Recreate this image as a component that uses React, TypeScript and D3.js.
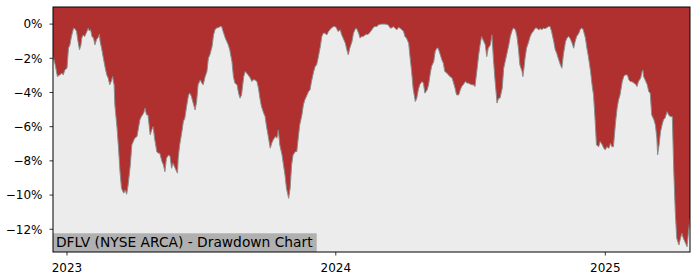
import React from 'react';
import * as d3 from 'd3';

const dates: string[] = [
  '2022-12-13','2022-12-16','2022-12-19','2022-12-22','2022-12-25','2022-12-27','2022-12-29',
  '2023-01-01','2023-01-03','2023-01-05','2023-01-07','2023-01-10','2023-01-12','2023-01-14','2023-01-16','2023-01-18','2023-01-20','2023-01-21','2023-01-23','2023-01-25','2023-01-28','2023-01-30','2023-01-31',
  '2023-02-02','2023-02-04','2023-02-06','2023-02-08','2023-02-10','2023-02-13','2023-02-14','2023-02-15','2023-02-17','2023-02-19','2023-02-22','2023-02-24','2023-02-26','2023-02-28',
  '2023-03-02','2023-03-04','2023-03-05','2023-03-06','2023-03-07','2023-03-10','2023-03-12','2023-03-14','2023-03-16','2023-03-19','2023-03-21','2023-03-23','2023-03-25','2023-03-28','2023-03-30',
  '2023-04-01','2023-04-03','2023-04-06','2023-04-08','2023-04-10','2023-04-12','2023-04-15','2023-04-17','2023-04-19','2023-04-21','2023-04-24','2023-04-26','2023-04-28','2023-04-30',
  '2023-05-03','2023-05-05','2023-05-07','2023-05-10','2023-05-12','2023-05-14','2023-05-16','2023-05-19','2023-05-21','2023-05-23','2023-05-25','2023-05-28','2023-05-30','2023-05-31',
  '2023-06-01','2023-06-03','2023-06-06','2023-06-08','2023-06-10','2023-06-12','2023-06-15','2023-06-17','2023-06-19','2023-06-22','2023-06-24','2023-06-26','2023-06-28',
  '2023-07-01','2023-07-03','2023-07-05','2023-07-07','2023-07-10','2023-07-12','2023-07-14','2023-07-17','2023-07-19','2023-07-21','2023-07-23','2023-07-26','2023-07-28','2023-07-30',
  '2023-08-01','2023-08-04','2023-08-06','2023-08-08','2023-08-10','2023-08-13','2023-08-15','2023-08-17','2023-08-20','2023-08-22','2023-08-24','2023-08-26','2023-08-29','2023-08-31',
  '2023-09-02','2023-09-04','2023-09-07','2023-09-09','2023-09-11','2023-09-13','2023-09-16','2023-09-18','2023-09-20','2023-09-22','2023-09-25','2023-09-27','2023-09-29',
  '2023-10-01','2023-10-04','2023-10-06','2023-10-08','2023-10-11','2023-10-13','2023-10-15','2023-10-17','2023-10-20','2023-10-22','2023-10-24','2023-10-26','2023-10-29','2023-10-31',
  '2023-11-02','2023-11-04','2023-11-07','2023-11-09','2023-11-11','2023-11-13','2023-11-16','2023-11-18','2023-11-20','2023-11-23','2023-11-25','2023-11-27','2023-11-29',
  '2023-12-02','2023-12-04','2023-12-06','2023-12-08','2023-12-11','2023-12-13','2023-12-15','2023-12-17','2023-12-20','2023-12-22','2023-12-24','2023-12-26','2023-12-29','2023-12-31',
  '2024-01-02','2024-01-04','2024-01-07','2024-01-09','2024-01-11','2024-01-14','2024-01-16','2024-01-18','2024-01-20','2024-01-23','2024-01-25','2024-01-27','2024-01-29',
  '2024-02-01','2024-02-03','2024-02-05','2024-02-07','2024-02-10','2024-02-12','2024-02-14','2024-02-16','2024-02-19','2024-02-21','2024-02-23','2024-02-26','2024-02-28',
  '2024-03-03','2024-03-08','2024-03-12','2024-03-15','2024-03-17','2024-03-19','2024-03-21','2024-03-24','2024-03-26','2024-03-28','2024-03-31',
  '2024-04-02','2024-04-04','2024-04-06','2024-04-09','2024-04-11','2024-04-13','2024-04-15','2024-04-18','2024-04-20','2024-04-22','2024-04-24','2024-04-27','2024-04-29',
  '2024-05-01','2024-05-04','2024-05-06','2024-05-08','2024-05-10','2024-05-13','2024-05-15','2024-05-17','2024-05-19','2024-05-22','2024-05-24','2024-05-26','2024-05-28','2024-05-31',
  '2024-06-02','2024-06-04','2024-06-07','2024-06-09','2024-06-11','2024-06-13','2024-06-16','2024-06-18','2024-06-20','2024-06-22','2024-06-25','2024-06-27','2024-06-29',
  '2024-07-01','2024-07-04','2024-07-06','2024-07-08','2024-07-11','2024-07-13','2024-07-15','2024-07-17','2024-07-20','2024-07-22','2024-07-24','2024-07-26','2024-07-29','2024-07-31',
  '2024-08-02','2024-08-04','2024-08-07','2024-08-09','2024-08-11','2024-08-14','2024-08-16','2024-08-18','2024-08-20','2024-08-23','2024-08-25','2024-08-27','2024-08-29',
  '2024-09-01','2024-09-03','2024-09-05','2024-09-07','2024-09-10','2024-09-11','2024-09-12','2024-09-14','2024-09-16','2024-09-19','2024-09-21','2024-09-23','2024-09-25','2024-09-28','2024-09-30',
  '2024-10-02','2024-10-05','2024-10-07','2024-10-09','2024-10-11','2024-10-14','2024-10-16','2024-10-18','2024-10-20','2024-10-23','2024-10-25','2024-10-27','2024-10-29',
  '2024-11-01','2024-11-03','2024-11-05','2024-11-08','2024-11-10','2024-11-12','2024-11-14','2024-11-17','2024-11-19','2024-11-21','2024-11-23','2024-11-26','2024-11-28','2024-11-30',
  '2024-12-02','2024-12-05','2024-12-07','2024-12-09','2024-12-12','2024-12-14','2024-12-16','2024-12-18','2024-12-20','2024-12-23','2024-12-25','2024-12-28','2024-12-30',
  '2025-01-01','2025-01-03','2025-01-06','2025-01-08','2025-01-10','2025-01-12','2025-01-15','2025-01-17','2025-01-19','2025-01-21','2025-01-24','2025-01-26','2025-01-28','2025-01-31',
  '2025-02-02','2025-02-04','2025-02-06','2025-02-09','2025-02-11','2025-02-13','2025-02-15','2025-02-18','2025-02-20','2025-02-21','2025-02-22','2025-02-24','2025-02-27',
  '2025-03-01','2025-03-03','2025-03-05','2025-03-08','2025-03-10','2025-03-12','2025-03-13','2025-03-15','2025-03-17','2025-03-19','2025-03-21','2025-03-23','2025-03-26','2025-03-28','2025-03-30',
  '2025-04-02','2025-04-04','2025-04-06','2025-04-08','2025-04-11','2025-04-13','2025-04-15','2025-04-17','2025-04-20','2025-04-22','2025-04-24','2025-04-26',
];

const drawdown: number[] = [
  -1.90,-2.38,-3.07,-2.97,-2.87,-2.97,-2.68,
  -2.58,-1.41,-1.21,-0.73,-0.23,-0.28,-0.43,-1.02,-1.50,-1.21,-0.82,-0.63,-0.73,-0.43,-0.23,-0.39,
  -0.33,-0.73,-0.82,-1.21,-0.92,-0.73,-0.59,-1.02,-1.41,-1.90,-2.58,-2.97,-3.16,-3.55,
  -3.36,-3.07,-3.36,-3.55,-4.72,-6.09,-7.26,-8.63,-9.60,-9.89,-9.70,-9.95,-9.41,-8.24,-7.07,
  -6.87,-6.67,-6.58,-6.09,-5.60,-5.41,-5.21,-4.92,-5.31,-5.31,-6.48,-6.19,-6.00,-6.70,
  -7.46,-7.55,-7.55,-8.04,-8.24,-8.63,-7.85,-7.65,-7.75,-8.43,-8.14,-8.43,-8.63,-8.72,
  -7.85,-7.07,-6.29,-5.70,-5.50,-4.92,-4.14,-4.04,-4.24,-4.72,-5.02,-4.53,-3.55,
  -3.26,-3.45,-3.55,-3.16,-2.77,-1.99,-1.80,-1.31,-0.63,-0.33,-0.23,-0.20,-0.14,-0.14,
  -0.43,-0.82,-1.02,-1.21,-1.50,-2.19,-3.07,-3.45,-3.55,-4.04,-4.33,-4.14,-3.07,-2.77,
  -2.87,-2.97,-3.16,-3.36,-3.26,-3.26,-3.36,-3.75,-4.33,-4.80,-5.20,-5.40,-6.00,
  -6.48,-7.26,-6.97,-6.77,-6.58,-6.67,-6.19,-7.07,-7.65,-8.24,-8.82,-9.60,-10.19,-9.60,
  -8.24,-7.65,-7.46,-7.46,-6.67,-5.90,-5.31,-4.72,-4.43,-4.14,-3.94,-3.85,-3.36,
  -2.77,-2.48,-2.38,-1.99,-1.31,-0.73,-0.53,-0.53,-0.63,-0.43,-0.33,-0.23,-0.14,-0.14,
  -0.23,-0.43,-0.33,-0.63,-0.82,-1.12,-1.50,-1.80,-1.41,-1.02,-0.53,-0.33,-0.23,
  -0.53,-0.82,-0.73,-0.73,-0.63,-0.60,-0.60,-0.50,-0.33,-0.20,-0.14,-0.14,-0.04,
  0,0,-0.04,-0.23,-0.23,-0.14,-0.23,-0.33,-0.20,-0.23,-0.33,
  -0.43,-0.73,-0.82,-1.12,-1.99,-2.77,-3.75,-4.53,-4.33,-3.85,-3.55,-3.36,-3.45,
  -4.04,-3.85,-3.55,-2.97,-2.48,-2.19,-1.60,-1.41,-1.41,-1.80,-2.09,-2.28,-2.77,-2.87,
  -2.97,-3.07,-3.16,-3.45,-3.75,-4.14,-4.14,-3.85,-3.65,-3.55,-3.36,-3.45,-3.45,
  -3.50,-3.55,-3.55,-3.65,-2.58,-1.80,-1.21,-0.73,-1.02,-1.21,-1.90,-1.41,-1.21,-0.63,
  -1.99,-3.16,-4.62,-4.33,-4.33,-3.75,-2.58,-2.19,-1.80,-1.21,-0.73,-0.43,-0.23,
  -0.33,-0.73,-1.41,-2.38,-2.77,-3.07,-2.77,-1.99,-1.41,-1.02,-0.73,-0.53,-0.43,-0.23,-0.23,
  -0.33,-0.27,-0.33,-0.23,-0.27,-0.20,-0.14,-0.14,-0.43,-1.02,-1.50,-1.70,-1.99,
  -2.38,-2.58,-1.80,-1.02,-0.82,-0.73,-0.82,-1.12,-1.41,-1.02,-0.73,-0.53,-0.30,-0.23,
  -0.33,-0.82,-1.41,-1.90,-2.77,-3.55,-4.14,-5.50,-7.07,-7.17,-6.87,-7.07,-7.26,
  -7.36,-7.17,-7.26,-6.97,-7.17,-7.17,-5.70,-4.92,-4.43,-4.14,-3.36,-3.07,-2.97,-2.97,
  -3.26,-3.36,-3.36,-3.45,-3.51,-3.65,-3.36,-3.16,-2.77,-2.68,-3.07,-3.26,-3.55,
  -3.94,-4.04,-5.31,-5.60,-5.90,-6.67,-7.65,-7.07,-6.29,-5.90,-5.60,-5.50,-5.12,-5.31,-5.41,
  -5.41,-8.63,-10.97,-12.53,-12.92,-12.53,-12.24,-12.53,-12.82,-13.02,-12.14,-11.36,
];

const yTickValues: number[] = [0, -2, -4, -6, -8, -10, -12];
const xTickDates: string[] = ['2023-01-01', '2024-01-01', '2025-01-01'];
const xTickLabels: string[] = ['2023', '2024', '2025'];
const yDomain: [number, number] = [-13.33, 1.0];
const title = 'DFLV (NYSE ARCA) - Drawdown Chart';

export default function App() {
  const W = 700, H = 280;
  const L = 53, R = 690, T = 7, B = 252;
  const parse = d3.utcParse('%Y-%m-%d');
  const data = dates.map((d, i) => ({ date: parse(d) as Date, v: drawdown[i] }));
  const x = d3.scaleUtc().domain([data[0].date, data[data.length - 1].date]).range([L, R]);
  const y = d3.scaleLinear().domain(yDomain).range([B, T]);
  const area = d3.area<{ date: Date; v: number }>().x(d => x(d.date)).y0(B).y1(d => y(d.v));
  const line = d3.line<{ date: Date; v: number }>().x(d => x(d.date)).y(d => y(d.v));
  const font = 'DejaVu Sans, sans-serif';
  const fmt = (v: number) => (v < 0 ? '\u2212' + Math.abs(v) : String(v)) + '%';

  return (
    <svg width={W} height={H} style={{ position: 'absolute', left: 0, top: 0, background: '#fff' }}>
      <defs>
        <clipPath id="plot">
          <rect x={L} y={T} width={R - L} height={B - T} />
        </clipPath>
      </defs>
      <rect x={L} y={T} width={R - L} height={B - T} fill="#b03030" />
      <g clipPath="url(#plot)">
        <path d={area(data) || ''} fill="#ececec" />
        <path d={line(data) || ''} fill="none" stroke="#8c8c8c" strokeWidth={1} />
      </g>
      <rect x={L} y={233.3} width={263.7} height={B - 233.3} fill="#b0b0b0" />
      <text x={L + 3} y={247} fontFamily={font} fontSize={13.8} fill="#000">{title}</text>
      <rect x={L} y={T} width={R - L} height={B - T} fill="none" stroke="#000" strokeWidth={1} />
      {yTickValues.map(v => (
        <g key={v}>
          <line x1={L - 3.5} x2={L} y1={y(v)} y2={y(v)} stroke="#000" strokeWidth={0.8} />
          <text x={42.5} y={y(v)} dy="0.36em" textAnchor="end" fontFamily={font} fontSize={12} fill="#000">{fmt(v)}</text>
        </g>
      ))}
      {xTickDates.map((d, i) => {
        const xx = x(parse(d) as Date);
        return (
          <g key={d}>
            <line x1={xx} x2={xx} y1={B} y2={B + 3.5} stroke="#000" strokeWidth={0.8} />
            <text x={xx} y={271.5} textAnchor="middle" fontFamily={font} fontSize={12} fill="#000">{xTickLabels[i]}</text>
          </g>
        );
      })}
    </svg>
  );
}
